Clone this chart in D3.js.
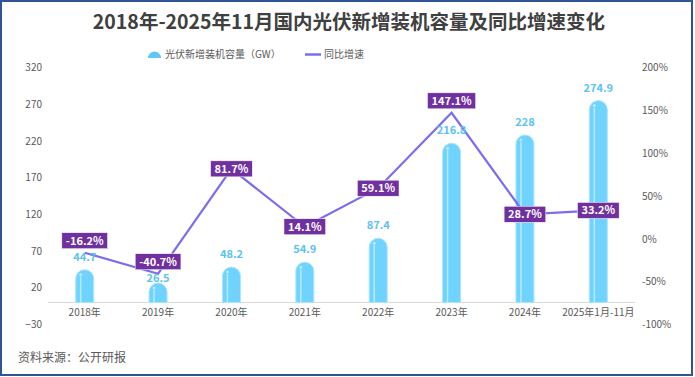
<!DOCTYPE html>
<html>
<head>
<meta charset="utf-8">
<script src="https://cdn.jsdelivr.net/npm/d3@7"></script>
<style>
  body { margin: 0; background: #fff; }
  text { font-family: "Noto Sans CJK SC", "Noto Sans", sans-serif; }
</style>
</head>
<body>
<div id="chart"></div>
<script>
// data
const years = ["2018年", "2019年", "2020年", "2021年", "2022年", "2023年", "2024年", "2025年1月-11月"];
const capacity = [44.7, 26.5, 48.2, 54.9, 87.4, 216.8, 228, 274.9];
const growth = [-16.2, -40.7, 81.7, 14.1, 59.1, 147.1, 28.7, 33.2];
const leftTicks = [-30, 20, 70, 120, 170, 220, 270, 320];
const rightTicks = [-100, -50, 0, 50, 100, 150, 200];
// growth labels that sit above the point instead of on it
const labelAbove = [0, 1, 5];

const width = 695, height = 377;
const margin = {top: 67, right: 60, bottom: 75, left: 48};

const svg = d3.select("#chart").append("svg")
    .attr("width", width)
    .attr("height", height);

svg.append("rect")
    .attr("x", 1).attr("y", 1)
    .attr("width", width - 4).attr("height", height - 3)
    .attr("fill", "#fff")
    .attr("stroke", "#2f5597")
    .attr("stroke-width", 2);

const x = d3.scaleBand(years, [margin.left, width - margin.right]);
const yL = d3.scaleLinear([-30, 320], [324.5, 67.5]);
const yR = d3.scaleLinear([-100, 200], [324.5, 67.5]);

// title
svg.append("text")
    .attr("x", 349).attr("y", 29)
    .attr("text-anchor", "middle")
    .attr("font-size", 19.5)
    .attr("font-weight", "bold")
    .attr("fill", "#404040")
    .text("2018年-2025年11月国内光伏新增装机容量及同比增速变化");

// legend
const lg = svg.append("g").attr("font-size", 10).attr("fill", "#595959");
lg.append("path")
    .attr("d", "M148,58 A6.5,6.5 0 0 1 161,58 Z")
    .attr("fill", "#5cc8f5");
lg.append("text").attr("x", 165).attr("y", 58).text("光伏新增装机容量（GW）");
lg.append("line")
    .attr("x1", 305).attr("x2", 321).attr("y1", 54.5).attr("y2", 54.5)
    .attr("stroke", "#7b6cf0").attr("stroke-width", 2.5);
lg.append("text").attr("x", 324).attr("y", 58).text("同比增速");

// axes
svg.append("g")
    .attr("transform", `translate(${margin.left - 6},0)`)
    .call(d3.axisLeft(yL).tickValues(leftTicks).tickSize(0).tickPadding(0))
    .call(g => g.select(".domain").remove())
    .call(g => g.selectAll("text").attr("font-size", 10).attr("fill", "#595959")
        .style("font-family", "'Noto Sans CJK SC', sans-serif"));

svg.append("g")
    .attr("transform", `translate(${width - margin.right + 7},0)`)
    .call(d3.axisRight(yR).tickValues(rightTicks).tickSize(0).tickPadding(0)
        .tickFormat(d => d + "%"))
    .call(g => g.select(".domain").remove())
    .call(g => g.selectAll("text").attr("font-size", 10).attr("fill", "#595959")
        .style("font-family", "'Noto Sans CJK SC', sans-serif"));

svg.append("line")
    .attr("x1", margin.left).attr("x2", width - margin.right)
    .attr("y1", yL(0)).attr("y2", yL(0))
    .attr("stroke", "#d9d9d9");

svg.append("g")
    .attr("transform", `translate(0,${yL(0) + 6})`)
    .call(d3.axisBottom(x).tickSize(0).tickPadding(0))
    .call(g => g.select(".domain").remove())
    .call(g => g.selectAll("text").attr("font-size", 10).attr("fill", "#595959")
        .style("font-family", "'Noto Sans CJK SC', sans-serif"));

// growth line points and label boxes (centre y), needed for bar label placement
const pts = growth.map((g, i) => [x(years[i]) + x.bandwidth() / 2, yR(g)]);
const boxCy = pts.map(([, py], i) => labelAbove.includes(i) ? py - 12 : py);

// capsule bars
const bw = 18, r = bw / 2;
const bars = svg.append("g");
capacity.forEach((v, i) => {
  const cx = x(years[i]) + x.bandwidth() / 2;
  const top = yL(v), base = yL(0);
  const x0 = cx - r;
  const d = `M${x0},${base} L${x0},${top + r} A${r},${r} 0 0 1 ${x0 + bw},${top + r} L${x0 + bw},${base} Z`;
  bars.append("path").attr("d", d)
      .attr("fill", "#6fd3fd")
      .attr("stroke", "#a8e6ff").attr("stroke-width", 1);
  bars.append("line")
      .attr("x1", cx - 4).attr("x2", cx - 4)
      .attr("y1", top + 7).attr("y2", base)
      .attr("stroke", "#b5ebff").attr("stroke-width", 1.5);
  bars.append("circle")
      .attr("cx", cx - 4).attr("cy", top + 5).attr("r", 1.5)
      .attr("fill", "#b5ebff");
});

// growth line
svg.append("path")
    .attr("d", d3.line()(pts))
    .attr("fill", "none")
    .attr("stroke", "#7b6cf0")
    .attr("stroke-width", 2.2);

// value labels above bars, pushed below the growth box if they would collide
const vals = svg.append("g");
capacity.forEach((v, i) => {
  const cx = x(years[i]) + x.bandwidth() / 2;
  let ty = yL(v) - 9;
  if (ty > boxCy[i] - 8 && ty - 10 < boxCy[i] + 8) ty = boxCy[i] + 20;
  vals.append("text")
      .attr("x", cx).attr("y", ty)
      .attr("text-anchor", "middle")
      .attr("font-size", 11).attr("font-weight", "bold")
      .attr("fill", "#5bc3f2")
      .text(v);
});

const lbl = svg.append("g");
growth.forEach((g, i) => {
  const px = pts[i][0], cy = boxCy[i];
  const t = lbl.append("text")
      .attr("x", px).attr("y", cy + 4)
      .attr("text-anchor", "middle")
      .attr("font-size", 11).attr("font-weight", "bold")
      .attr("fill", "#fff")
      .text(g.toFixed(1) + "%");
  const w = t.node().getComputedTextLength() + 8;
  lbl.insert("rect", "text")
      .attr("x", px - w / 2).attr("y", cy - 8)
      .attr("width", w).attr("height", 16)
      .attr("fill", "#7030a0")
      .attr("stroke", "#fff").attr("stroke-width", 0.5);
});

// source
svg.append("text")
    .attr("x", 18).attr("y", 362)
    .attr("font-size", 12)
    .attr("fill", "#595959")
    .text("资料来源：公开研报");
</script>
</body>
</html>
